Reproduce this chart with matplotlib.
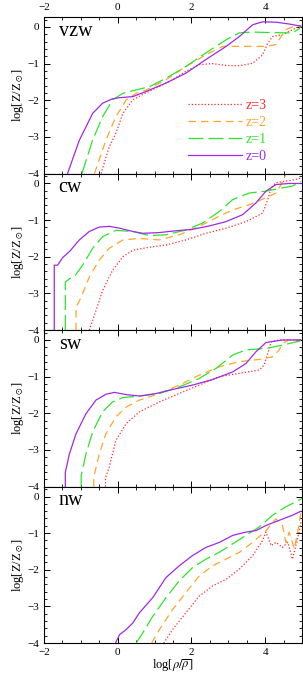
import numpy as np
import matplotlib
matplotlib.use("Agg")
import matplotlib.pyplot as plt
from matplotlib.ticker import MultipleLocator

plt.rcParams['font.family'] = ['Liberation Serif', 'DejaVu Serif']
plt.rcParams['mathtext.fontset'] = 'stix'

# panel names and redshifts
panels = ['vzw', 'cw', 'sw', 'nw']
redshifts = [3, 2, 1, 0]
colors = ['#ff2a2a', '#ffa52a', '#2ae62a', '#a02ae6']
styles = [(0, (1, 1.6)), (0, (6, 4)), (0, (12, 4)), '-']

# ---- vzw ----
vzw_z3_x = [-0.45, -0.23, -0.05, 0.14, 0.41, 0.68, 1.04, 1.49, 1.85, 2.21, 2.57, 2.94, 3.30, 3.66, 3.93, 4.07, 4.20, 4.47, 4.65, 4.83, 4.97]
vzw_z3_y = [-4.0, -3.27, -2.90, -2.36, -1.99, -1.84, -1.67, -1.44, -1.21, -1.03, -1.00, -1.05, -1.06, -0.99, -0.76, -0.44, -0.26, -0.21, -0.12, -0.03, 0.02]
vzw_z2_x = [-0.63, -0.32, -0.05, 0.23, 0.50, 0.77, 1.31, 1.85, 2.39, 2.85, 3.12, 3.66, 4.02, 4.29, 4.43, 4.56, 4.74, 4.97]
vzw_z2_y = [-4.0, -3.09, -2.45, -1.99, -1.81, -1.72, -1.44, -1.08, -0.76, -0.53, -0.53, -0.53, -0.53, -0.48, -0.26, -0.07, 0.0, 0.04]
vzw_z1_x = [-0.97, -0.68, -0.41, -0.14, 0.14, 0.41, 0.86, 1.31, 1.85, 2.39, 2.94, 3.30, 3.66, 4.02, 4.47, 4.74, 4.92, 4.97]
vzw_z1_y = [-4.0, -3.09, -2.45, -1.99, -1.81, -1.74, -1.63, -1.40, -1.08, -0.71, -0.35, -0.16, -0.14, -0.15, -0.16, -0.16, -0.05, 0.02]
vzw_z0_x = [-1.36, -1.04, -0.68, -0.41, -0.14, 0.05, 0.41, 0.77, 1.31, 1.85, 2.39, 2.94, 3.30, 3.66, 3.93, 4.29, 4.65, 4.97]
vzw_z0_y = [-4.0, -3.09, -2.36, -2.08, -1.96, -1.93, -1.90, -1.76, -1.53, -1.26, -0.89, -0.53, -0.26, 0.06, 0.14, 0.13, 0.08, 0.02]

# ---- cw ----
cw_z3_x = [-0.77, -0.59, -0.41, -0.14, 0.14, 0.41, 0.86, 1.31, 1.85, 2.39, 2.94, 3.48, 3.93, 4.07, 4.16, 4.29, 4.56, 4.83, 4.97]
cw_z3_y = [-4.0, -3.47, -2.92, -2.37, -2.00, -1.82, -1.74, -1.68, -1.54, -1.36, -1.22, -1.04, -0.81, -0.44, -0.12, 0.02, 0.06, 0.11, 0.15]
cw_z2_x = [-1.13, -1.13, -0.99, -0.77, -0.50, -0.23, 0.14, 0.59, 1.13, 1.67, 2.21, 2.66, 3.12, 3.57, 4.02, 4.29, 4.43, 4.56, 4.74, 4.97]
cw_z2_y = [-4.0, -3.38, -3.10, -2.55, -2.09, -1.77, -1.54, -1.50, -1.54, -1.40, -1.17, -0.94, -0.72, -0.58, -0.39, -0.26, -0.03, 0.25, 0.30, 0.35]
cw_z1_x = [-1.42, -1.42, -1.31, -1.17, -0.95, -0.68, -0.41, -0.05, 0.41, 0.86, 1.31, 1.85, 2.30, 2.76, 3.12, 3.57, 4.02, 4.47, 4.74, 4.97]
cw_z1_y = [-4.0, -2.69, -2.60, -2.53, -2.23, -1.77, -1.45, -1.28, -1.31, -1.42, -1.40, -1.27, -1.08, -0.76, -0.44, -0.26, -0.21, -0.12, -0.07, 0.05]
cw_z0_x = [-1.72, -1.72, -1.63, -1.49, -1.31, -1.04, -0.77, -0.50, -0.23, 0.05, 0.41, 0.68, 1.13, 1.58, 2.03, 2.48, 2.94, 3.39, 3.75, 4.02, 4.29, 4.65, 4.97]
cw_z0_y = [-4.0, -2.23, -2.23, -2.02, -1.86, -1.54, -1.31, -1.19, -1.17, -1.22, -1.31, -1.36, -1.34, -1.29, -1.25, -1.16, -1.04, -0.85, -0.53, -0.21, -0.03, 0.0, 0.0]

# ---- sw ----
sw_z3_x = [-0.33, -0.33, -0.23, -0.05, 0.23, 0.59, 1.13, 1.67, 2.21, 2.76, 3.30, 3.84, 3.97, 4.07, 4.16, 4.38, 4.97]
sw_z3_y = [-4.0, -3.75, -3.47, -2.74, -2.28, -1.96, -1.69, -1.46, -1.23, -1.00, -0.91, -0.82, -0.68, -0.37, -0.05, 0.0, 0.0]
sw_z2_x = [-0.65, -0.65, -0.50, -0.32, -0.05, 0.23, 0.59, 1.13, 1.67, 2.21, 2.76, 3.30, 3.84, 4.20, 4.38, 4.47, 4.65, 4.97]
sw_z2_y = [-4.0, -3.75, -3.11, -2.56, -2.10, -1.83, -1.64, -1.46, -1.23, -0.96, -0.73, -0.59, -0.53, -0.46, -0.27, -0.09, 0.0, 0.0]
sw_z1_x = [-0.99, -0.99, -0.86, -0.68, -0.41, -0.14, 0.14, 0.59, 1.13, 1.67, 2.21, 2.66, 3.12, 3.48, 4.02, 4.47, 4.97]
sw_z1_y = [-4.0, -3.70, -3.11, -2.51, -1.96, -1.69, -1.57, -1.53, -1.46, -1.28, -1.05, -0.78, -0.41, -0.27, -0.23, -0.14, -0.02]
sw_z0_x = [-1.42, -1.42, -1.31, -1.13, -0.86, -0.59, -0.32, -0.09, 0.23, 0.59, 1.04, 1.49, 2.03, 2.57, 3.12, 3.48, 3.75, 4.02, 4.47, 4.97]
sw_z0_y = [-4.0, -3.61, -3.11, -2.56, -2.01, -1.64, -1.48, -1.43, -1.49, -1.53, -1.46, -1.35, -1.23, -1.08, -0.87, -0.64, -0.32, -0.07, 0.0, 0.0]

# ---- nw ----
nw_z3_x = [1.25, 1.49, 1.85, 2.21, 2.57, 2.94, 3.30, 3.66, 3.93, 4.02, 4.16, 4.29, 4.47, 4.61, 4.74, 4.83, 4.92, 4.97]
nw_z3_y = [-4.0, -3.63, -3.17, -2.72, -2.44, -2.26, -1.98, -1.61, -1.20, -0.97, -1.34, -1.25, -1.39, -1.25, -1.71, -1.34, -0.97, -0.70]
nw_z2_x = [0.92, 1.13, 1.49, 1.85, 2.21, 2.57, 2.94, 3.30, 3.66, 4.02, 4.29, 4.47, 4.56, 4.65, 4.79, 4.88, 4.97]
nw_z2_y = [-4.0, -3.63, -3.08, -2.62, -2.17, -1.89, -1.71, -1.52, -1.25, -0.93, -0.61, -0.79, -1.25, -0.97, -1.43, -0.97, -0.42]
nw_z1_x = [0.50, 0.68, 0.95, 1.31, 1.67, 2.03, 2.39, 2.76, 3.12, 3.48, 3.84, 4.20, 4.56, 4.92, 5.0]
nw_z1_y = [-4.0, -3.72, -3.27, -2.76, -2.30, -1.94, -1.71, -1.52, -1.29, -1.06, -0.83, -0.51, -0.28, -0.10, -0.05]
nw_z0_x = [-0.06, 0.05, 0.23, 0.41, 0.59, 0.95, 1.31, 1.67, 2.03, 2.39, 2.76, 3.12, 3.48, 3.75, 4.02, 4.38, 4.74, 4.97]
nw_z0_y = [-4.0, -3.77, -3.63, -3.45, -3.17, -2.76, -2.21, -1.89, -1.61, -1.39, -1.25, -1.06, -0.97, -0.93, -0.79, -0.65, -0.51, -0.40]

curves = {
    'vzw': [(vzw_z3_x, vzw_z3_y), (vzw_z2_x, vzw_z2_y), (vzw_z1_x, vzw_z1_y), (vzw_z0_x, vzw_z0_y)],
    'cw': [(cw_z3_x, cw_z3_y), (cw_z2_x, cw_z2_y), (cw_z1_x, cw_z1_y), (cw_z0_x, cw_z0_y)],
    'sw': [(sw_z3_x, sw_z3_y), (sw_z2_x, sw_z2_y), (sw_z1_x, sw_z1_y), (sw_z0_x, sw_z0_y)],
    'nw': [(nw_z3_x, nw_z3_y), (nw_z2_x, nw_z2_y), (nw_z1_x, nw_z1_y), (nw_z0_x, nw_z0_y)],
}

fig, axes = plt.subplots(4, 1, figsize=(3.03, 6.82), dpi=100, sharex=True)
fig.subplots_adjust(left=0.145, right=0.997, bottom=0.057, top=0.975, hspace=0)

for i, (ax, name) in enumerate(zip(axes, panels)):
    for (xs, ys), z, c, ls in zip(curves[name], redshifts, colors, styles):
        ax.plot(xs, ys, color=c, ls=ls, lw=0.9, label='z=%d' % z)
    ax.set_xlim(-2, 5)
    ax.set_ylim(-4, 0.27)
    ax.xaxis.set_major_locator(MultipleLocator(2))
    ax.xaxis.set_minor_locator(MultipleLocator(0.5))
    ax.yaxis.set_major_locator(MultipleLocator(1))
    ax.yaxis.set_minor_locator(MultipleLocator(0.2))
    ax.tick_params(which='both', direction='in', top=True, right=True, labelsize=8)
    ax.tick_params(which='major', length=4.5, width=0.7)
    ax.tick_params(which='minor', length=2.2, width=0.6)
    ax.tick_params(labeltop=(i == 0), labelbottom=(i == 3))
    for sp in ax.spines.values():
        sp.set_linewidth(0.8)
    ax.set_ylabel(r'log[Z/Z$_\odot$]', fontsize=9, labelpad=1)
    ax.text(-1.6, -0.12, name, fontsize=14.5, va='center', ha='left')

# legend sits inside the top panel, text coloured like the lines
axes[0].legend(loc='lower right', bbox_to_anchor=(0.885, 0.03), frameon=False,
               handlelength=3.9, handletextpad=0.25, labelspacing=0.3,
               fontsize=10, labelcolor='linecolor', borderaxespad=0)
axes[3].set_xlabel(r'log[$\rho/\overline{\rho}$]', fontsize=9, labelpad=1)

plt.savefig('out.png', dpi=100)
